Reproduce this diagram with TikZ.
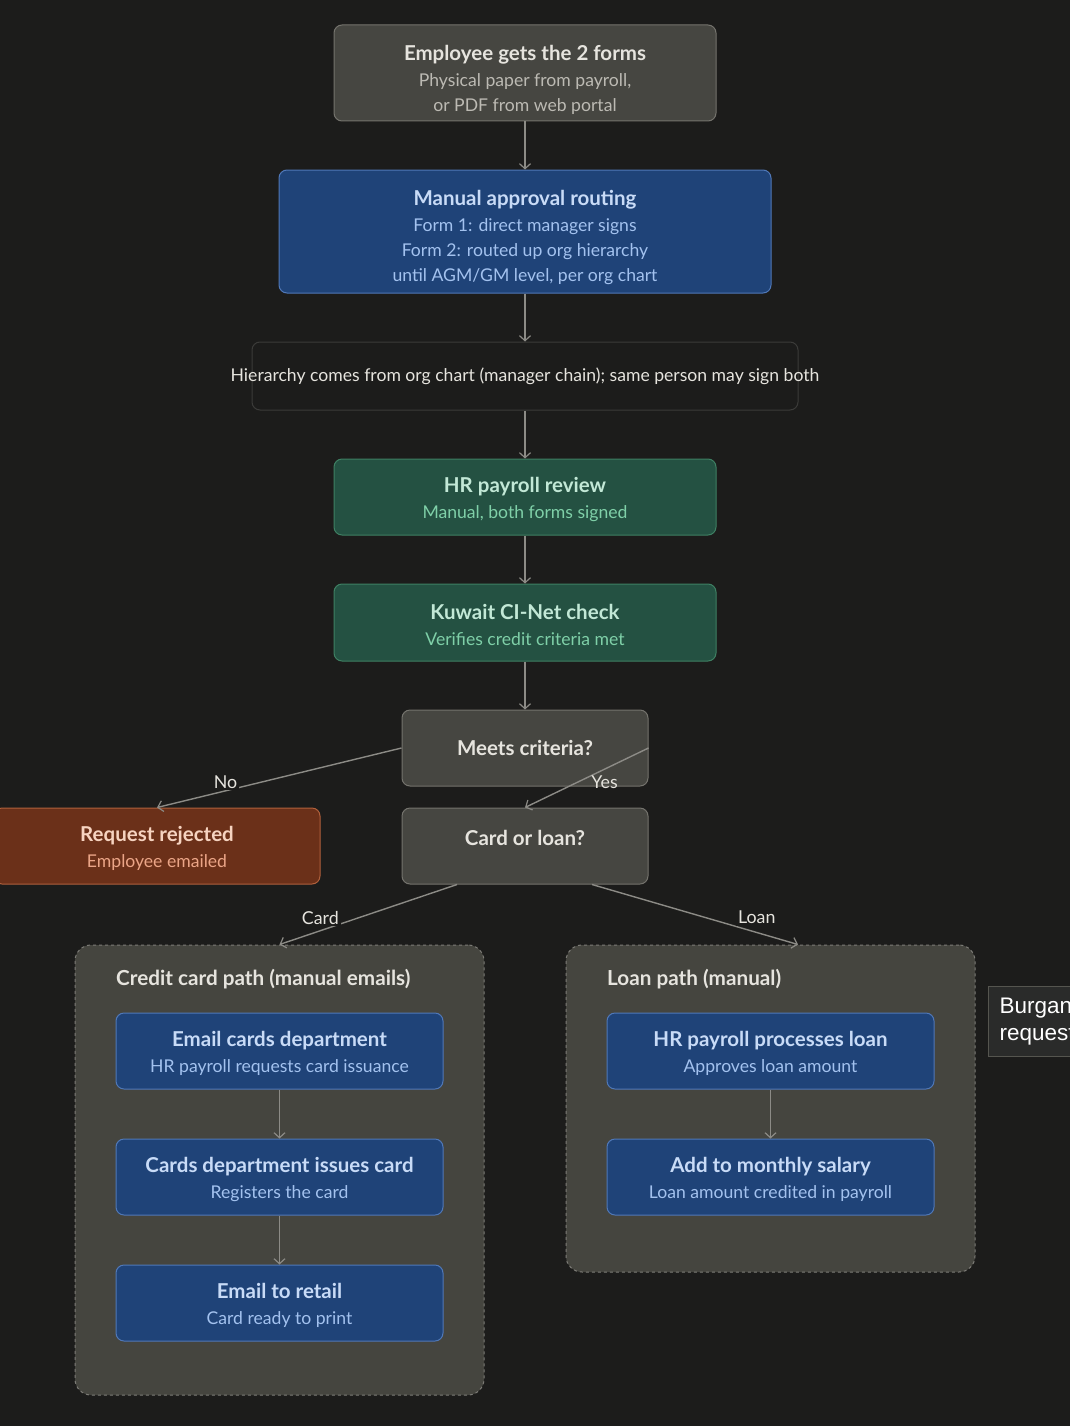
\documentclass[tikz,border=0pt]{standalone}
\usepackage{fontspec}
\setmainfont{Lato}
\newfontfamily\sidefont{Liberation Sans}
\usetikzlibrary{arrows.meta,positioning}

\definecolor{bg}{HTML}{1C1C1B}
\definecolor{greyfill}{HTML}{464641}
\definecolor{greyline}{HTML}{74736D}
\definecolor{greytitle}{HTML}{E6E4DE}
\definecolor{greysub}{HTML}{BCBAB3}
\definecolor{bluefill}{HTML}{1F4378}
\definecolor{blueline}{HTML}{5078B8}
\definecolor{bluetitle}{HTML}{C8DBF7}
\definecolor{bluesub}{HTML}{A3C2EF}
\definecolor{greenfill}{HTML}{245142}
\definecolor{greenline}{HTML}{3E8063}
\definecolor{greentitle}{HTML}{C2E8D6}
\definecolor{greensub}{HTML}{7FD0A8}
\definecolor{brownfill}{HTML}{6B3019}
\definecolor{brownline}{HTML}{B0603C}
\definecolor{browntitle}{HTML}{F6D3C0}
\definecolor{brownsub}{HTML}{EBA587}
\definecolor{edgecol}{HTML}{8C8B86}
\definecolor{clusterfill}{HTML}{45453F}
\definecolor{clusterline}{HTML}{7D7C77}
\definecolor{noteline}{HTML}{3B3B39}
\definecolor{burganfill}{HTML}{2A2B2A}
\definecolor{burganline}{HTML}{55554F}

% title line; the optional number pushes the text block down
\newcommand{\ttl}[2][0]{{\fontsize{20.5}{25}\selectfont\bfseries\color{ttlcol}%
  \rule{0pt}{\dimexpr16pt+#1pt\relax}#2}}
\colorlet{ttlcol}{greytitle}

\tikzset{
  base/.style={rectangle, rounded corners=8pt, line width=1pt, align=center,
    font=\fontsize{17.6}{25}\selectfont, inner sep=4pt},
  greybox/.style={base, fill=greyfill, draw=greyline, text=greysub,
    execute at begin node={\colorlet{ttlcol}{greytitle}}},
  bluebox/.style={base, fill=bluefill, draw=blueline, text=bluesub,
    execute at begin node={\colorlet{ttlcol}{bluetitle}}},
  greenbox/.style={base, fill=greenfill, draw=greenline, text=greensub,
    execute at begin node={\colorlet{ttlcol}{greentitle}}},
  brownbox/.style={base, fill=brownfill, draw=brownline, text=brownsub,
    execute at begin node={\colorlet{ttlcol}{browntitle}}},
  cluster/.style={rectangle, rounded corners=16pt, fill=clusterfill,
    draw=clusterline, dashed, line width=1pt},
  clusterlabel/.style={anchor=west, text=greytitle, inner sep=0pt,
    font=\fontsize{20.7}{25}\selectfont\bfseries},
  flow/.style={color=edgecol, line width=1.4pt,
    -{Straight Barb[length=5pt,width=11pt,line width=1.2pt]}},
  lbl/.style={fill=bg, text=greytitle, inner sep=2pt,
    font=\fontsize{17.8}{20}\selectfont}
}

\begin{document}
\begin{tikzpicture}[x=1pt, y=-1pt, node distance=49pt]
  \useasboundingbox (0,0) rectangle (1070,1426);
  \clip (0,0) rectangle (1070,1426);
  \fill[bg] (0,0) rectangle (1070,1426);

  % main column
  \node[greybox, minimum width=382pt, minimum height=96pt] (gets) at (525,73)
    {\ttl[14]{Employee gets the 2 forms}\\[1pt]Physical paper from payroll,\\or PDF from web portal};
  \node[bluebox, minimum width=492pt, minimum height=123pt] (route) at (525,231.5)
    {\ttl[11]{Manual approval routing}\\[1pt]Form 1: direct manager signs\\Form 2: routed up org hierarchy\\until AGM/GM level, per org chart};
  \node[rectangle, rounded corners=8pt, draw=noteline, line width=1pt,
    minimum width=546pt, minimum height=68pt] (note) at (525,376) {};
  \node[text=greytitle, font=\fontsize{17.6}{20}\selectfont] at (note)
    {Hierarchy comes from org chart (manager chain); same person may sign both};
  \node[greenbox, minimum width=382pt, minimum height=76pt] (review) at (525,497)
    {\ttl[4]{HR payroll review}\\[1pt]Manual, both forms signed};
  \node[greenbox, minimum width=382pt, minimum height=77pt] (cinet) at (525,622.5)
    {\ttl[4]{Kuwait CI-Net check}\\[1pt]Verifies credit criteria met};
  \node[greybox, minimum width=246pt, minimum height=76pt] (meets) at (525,748)
    {\ttl{Meets criteria?}};
  \node[greybox, minimum width=246pt, minimum height=76pt] (cardloan) at (525,846)
    {\ttl{Card or loan?}\rule[-18pt]{0pt}{18pt}};
  \node[brownbox, minimum width=326pt, minimum height=76pt] (rejected) at (157,846)
    {\ttl[4]{Request rejected}\\[1pt]Employee emailed};

  % credit card path
  \node[cluster, minimum width=409pt, minimum height=450pt] (cardpath) at (279.5,1170) {};
  \node[clusterlabel] at (116,979) {Credit card path (manual emails)};
  \node[bluebox, minimum width=327pt, minimum height=76pt] (emaildept) at (279.5,1051)
    {\ttl[4]{Email cards department}\\[1pt]HR payroll requests card issuance};
  \node[bluebox, minimum width=327pt, minimum height=76pt, below=of emaildept] (issue)
    {\ttl[4]{Cards department issues card}\\[1pt]Registers the card};
  \node[bluebox, minimum width=327pt, minimum height=76pt, below=of issue] (retail)
    {\ttl[4]{Email to retail}\\[1pt]Card ready to print};

  % loan path
  \node[cluster, minimum width=409pt, minimum height=327pt] (loanpath) at (770.5,1108.5) {};
  \node[clusterlabel] at (607,979) {Loan path (manual)};
  \node[bluebox, minimum width=327pt, minimum height=76pt] (processloan) at (770.5,1051)
    {\ttl[4]{HR payroll processes loan}\\[1pt]Approves loan amount};
  \node[bluebox, minimum width=327pt, minimum height=76pt, below=of processloan] (salary)
    {\ttl[4]{Add to monthly salary}\\[1pt]Loan amount credited in payroll};

  % side note, cut at the edge
  \node[rectangle, fill=burganfill, draw=burganline, line width=1pt, anchor=west,
    minimum width=160pt, minimum height=63pt, align=left, text=white,
    font=\sidefont\fontsize{22.5}{27}\selectfont, inner sep=11pt, text width=138pt] (burgan) at (988,1021.5)
    {Burgan\\request};

  \path[flow]
    (gets) edge (route)
    (route) edge (note)
    (note) edge (review)
    (review) edge (cinet)
    (cinet) edge (meets)
    (meets.west) edge node[lbl, pos=0.72, yshift=9pt] {No} (rejected.north)
    (meets.east) edge node[lbl, fill=none, pos=0.38, yshift=-12pt, xshift=3pt] {Yes} (cardloan.north)
    ([xshift=-68pt]cardloan.south) edge node[lbl, pos=0.77, yshift=13pt] {Card} (cardpath.north)
    ([xshift=67pt]cardloan.south) edge node[lbl, pos=0.8, yshift=15pt] {Loan} ([xshift=27.5pt]loanpath.north)
    (emaildept) edge (issue)
    (issue) edge (retail)
    (processloan) edge (salary);
\end{tikzpicture}
\end{document}
